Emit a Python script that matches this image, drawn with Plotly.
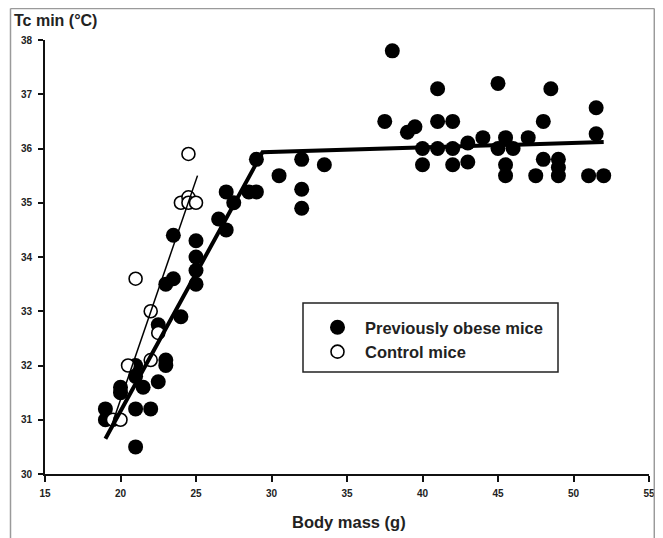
import plotly.graph_objects as go

# Previously obese mice (filled)
obese_mass = [38.0, 41.0, 45.0, 48.5, 51.5,
              37.5, 39.0, 39.5, 41.0, 42.0, 48.0, 51.5,
              40.0, 41.0, 42.0, 43.0, 44.0, 45.5, 47.0, 45.0, 46.0,
              40.0, 42.0, 43.0, 45.5, 45.5, 48.0, 49.0, 49.0, 49.0, 47.5, 51.0, 52.0,
              29.0, 30.5, 32.0, 33.5, 32.0, 32.0,
              27.0, 28.5, 29.0, 27.5, 26.5, 27.0,
              25.0, 25.0, 25.0, 25.0,
              23.5, 23.0, 23.5, 24.0, 22.5,
              23.0, 23.0, 21.0, 21.0, 22.5, 21.5, 20.0, 20.0, 19.0, 19.0, 21.0, 22.0, 21.0]
obese_tc = [37.8, 37.1, 37.2, 37.1, 36.75,
            36.5, 36.3, 36.4, 36.5, 36.5, 36.5, 36.27,
            36.0, 36.0, 36.0, 36.1, 36.2, 36.2, 36.2, 36.0, 36.0,
            35.7, 35.7, 35.75, 35.7, 35.5, 35.8, 35.8, 35.65, 35.5, 35.5, 35.5, 35.5,
            35.8, 35.5, 35.8, 35.7, 35.25, 34.9,
            35.2, 35.2, 35.2, 35.0, 34.7, 34.5,
            34.3, 34.0, 33.75, 33.5,
            34.4, 33.5, 33.6, 32.9, 32.75,
            32.1, 32.0, 32.0, 31.8, 31.7, 31.6, 31.6, 31.5, 31.2, 31.0, 31.2, 31.2, 30.5]

# Control mice (open)
control_mass = [19.5, 20.0, 20.5, 22.0, 22.5, 22.0, 21.0, 24.0, 24.5, 24.5, 25.0, 24.5]
control_tc = [31.0, 31.0, 32.0, 32.1, 32.6, 33.0, 33.6, 35.0, 35.1, 35.0, 35.0, 35.9]

# Fitted lines
obese_fit_mass = [19.0, 29.4, 52.0]
obese_fit_tc = [30.65, 35.93, 36.12]
control_fit_mass = [19.3, 25.1]
control_fit_tc = [30.8, 35.5]

x_ticks = [15, 20, 25, 30, 35, 40, 45, 50, 55]
y_ticks = [30, 31, 32, 33, 34, 35, 36, 37, 38]

FONT = "Liberation Sans, Arial, sans-serif"

fig = go.Figure()
fig.add_trace(go.Scatter(
    x=obese_mass, y=obese_tc, mode="markers", name="Previously obese mice",
    marker=dict(size=15, color="black", line=dict(width=0)),
))
fig.add_trace(go.Scatter(
    x=control_mass, y=control_tc, mode="markers", name="Control mice",
    marker=dict(size=13, color="white", line=dict(width=1.6, color="black")),
))
fig.add_trace(go.Scatter(
    x=obese_fit_mass, y=obese_fit_tc, mode="lines", showlegend=False,
    line=dict(color="black", width=4),
))
fig.add_trace(go.Scatter(
    x=control_fit_mass, y=control_fit_tc, mode="lines", showlegend=False,
    line=dict(color="black", width=1.5),
))

# plot area in screen pixels: x 45..649, y 40..474 (page has an 8px body margin)
X0, PW, PH = 45.0, 604.0, 434.0
def px(xp):
    return (xp - X0) / PW
def py(yp):
    return (474 - yp) / PH

shapes = [
    # outer grey frame
    dict(type="line", xref="paper", yref="paper", x0=px(10.5), x1=px(10.5), y0=py(8.5), y1=py(545),
         line=dict(color="#9a9a9a", width=1.5)),
    dict(type="line", xref="paper", yref="paper", x0=px(10.5), x1=px(654.3), y0=py(8.5), y1=py(8.5),
         line=dict(color="#9a9a9a", width=1.5)),
    dict(type="line", xref="paper", yref="paper", x0=px(654.3), x1=px(654.3), y0=py(8.5), y1=py(545),
         line=dict(color="#9a9a9a", width=1.5)),
    # legend box
    dict(type="rect", xref="paper", yref="paper", x0=px(303), x1=px(558), y0=py(372), y1=py(303),
         line=dict(color="#222", width=1.5), fillcolor="white", layer="below"),
]

fig.update_layout(
    width=647, height=530,
    margin=dict(l=37, r=6, t=32, b=64, autoexpand=False),
    paper_bgcolor="white", plot_bgcolor="white",
    font=dict(family=FONT, color="#111"),
    shapes=shapes,
    showlegend=True,
    legend=dict(
        x=px(310), y=py(310), xanchor="left", yanchor="top",
        bgcolor="rgba(0,0,0,0)", borderwidth=0,
        font=dict(size=16.5, family=FONT, color="#222", weight="bold"),
        itemsizing="trace", tracegroupgap=0, itemwidth=45,
    ),
    annotations=[
        dict(text="Tc min (°C)", xref="paper", yref="paper", x=px(12), y=py(21),
             xanchor="left", yanchor="middle", showarrow=False,
             font=dict(size=16, family=FONT, color="#222", weight="bold")),
        dict(text="Body mass (g)", xref="paper", yref="paper", x=px(349), y=py(522),
             xanchor="center", yanchor="middle", showarrow=False,
             font=dict(size=16.5, family=FONT, color="#222", weight="bold")),
    ],
)

fig.update_xaxes(
    range=[15, 55], tickvals=x_ticks, ticktext=[str(v) for v in x_ticks],
    showgrid=False, zeroline=False, showline=True, linecolor="#111", linewidth=2,
    ticks="outside", ticklen=6, tickwidth=2, tickcolor="#111",
    tickfont=dict(size=10, family=FONT, color="#222", weight="bold"),
    ticklabelstandoff=3, ticklabeloverflow="allow", automargin=False,
)
fig.update_yaxes(
    range=[30, 38], tickvals=y_ticks, ticktext=[str(v) for v in y_ticks],
    showgrid=False, zeroline=False, showline=True, linecolor="#111", linewidth=2,
    ticks="outside", ticklen=5, tickwidth=2, tickcolor="#111",
    tickfont=dict(size=10, family=FONT, color="#222", weight="bold"),
    ticklabelstandoff=4, automargin=False,
)

fig.write_html("out.html")
